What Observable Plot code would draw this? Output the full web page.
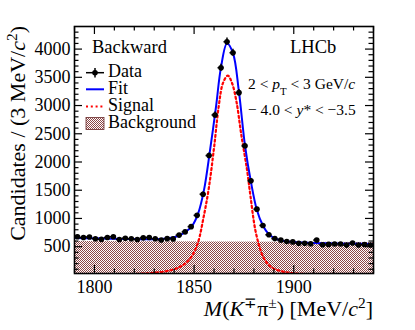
<!DOCTYPE html>
<html><head><meta charset="utf-8">
<script src="https://cdn.jsdelivr.net/npm/d3@7"></script>
<script src="https://cdn.jsdelivr.net/npm/@observablehq/plot@0.6"></script>
<style>
html,body{margin:0;padding:0;background:#fff;}
svg{display:block;}
</style>
</head><body><div id="chart"></div>
<script>
// ---- data ----
const binCenters = [1791.5,1794.5,1797.5,1800.5,1803.5,1806.5,1809.5,1812.5,1815.5,1818.5,
  1821.5,1824.5,1827.5,1830.5,1833.5,1836.5,1839.5,1842.5,1845.5,1848.5,
  1851.5,1854.5,1857.5,1860.5,1863.5,1866.5,1869.5,1872.5,1875.5,1878.5,
  1881.5,1884.5,1887.5,1890.5,1893.5,1896.5,1899.5,1902.5,1905.5,1908.5,
  1911.5,1914.5,1917.5,1920.5,1923.5,1926.5,1929.5,1932.5,1935.5,1938.5];
const counts = [675,662,672,640,630,662,675,628,650,640,
  628,656,662,640,618,642,638,705,762,855,
  1055,1430,2114,2833,3670,4130,3936,3228,2285,1666,
  1165,876,711,643,617,592,585,562,562,552,
  617,535,540,548,548,528,565,530,538,530];

const fitMass = [1790,1800,1810,1820,1830,1835,1840,1843,1846,1849,1852,1855,1858,1861,1863.5,1866.5,1869.5,1872.5,1875.5,1878.5,1881.5,1884.5,1887.5,1890.5,1895,1900,1910,1920,1930,1940];
const fitValues = [655,648,640,634,632,640,668,705,768,868,1085,1510,2210,2980,3680,4100,3930,3240,2300,1650,1150,875,720,648,602,582,566,558,552,548];

const sigMass = [1790,1800,1810,1820,1825,1830,1835,1840,1843,1846,1849,1852,1854.8,1857.3,1860,1862.4,1864.5,1866.9,1869,1871.3,1873.6,1876.6,1878.3,1880.8,1883.8,1886,1888.3,1891,1895,1900,1910,1920,1940];
const sigValues = [0,2,6,15,24,38,60,100,145,215,340,580,1030,1520,2250,3000,3400,3530,3400,3060,2500,1850,1390,780,390,240,150,95,55,28,10,4,0];

const bkgMass = [1790,1940];
const bkgValues = [590,575];

const xTickLabels = [1800,1850,1900];
const xMinorTicks = [1790,1810,1820,1830,1840,1860,1870,1880,1890,1910,1920,1930,1940];
const yTickLabels = [500,1000,1500,2000,2500,3000,3500,4000];
const yMinorTicks = d3.range(100,4400,100).filter(v => v % 500 !== 0);

// ---- layout ----
const W = 415, H = 330, mL = 74, mR = 42, mT = 26, mB = 57;
const fw = W - mL - mR, fh = H - mT - mB;
const FONT = "'Liberation Serif','Times New Roman',serif";
const DOTS = "2,2.8";

const data = binCenters.map((m, i) => ({m, n: counts[i]}));
const fit = fitMass.map((m, i) => ({m, v: fitValues[i]}));
const sig = sigMass.map((m, i) => ({m, v: sigValues[i]}));
const bkg = bkgMass.map((m, i) => ({m, v: bkgValues[i]}));

const tickStyle = {stroke: "black", strokeWidth: 1.2};

const plot = Plot.plot({
  width: W, height: H,
  marginLeft: mL, marginRight: mR, marginTop: mT, marginBottom: mB,
  style: {fontFamily: FONT, fontSize: "18px", color: "black", background: "white"},
  x: {domain: [1790, 1940]},
  y: {domain: [25, 4400]},
  marks: [
    Plot.areaY(bkg, {x: "m", y: "v", fill: "url(#bkgHatch)", clip: true}),
    Plot.line(sig, {x: "m", y: "v", stroke: "#ff0000", strokeWidth: 2.2, strokeDasharray: DOTS, curve: "catmull-rom", clip: true}),
    Plot.line(fit, {x: "m", y: "v", stroke: "#0000ff", strokeWidth: 2, curve: "catmull-rom", clip: true}),
    Plot.ruleX(data, {x: "m", y1: d => d.n - Math.sqrt(d.n), y2: d => d.n + Math.sqrt(d.n), stroke: "black", strokeWidth: 1.5}),
    Plot.ruleY(data, {y: "n", x1: d => d.m - 1.5, x2: d => d.m + 1.5, stroke: "black", strokeWidth: 1.5}),
    Plot.dot(data, {x: "m", y: "n", r: 2.8, fill: "black", stroke: "none"}),
    // inward ticks on all four sides
    Plot.tickY(yTickLabels, {y: d => d, insetRight: fw - 8, ...tickStyle}),
    Plot.tickY(yTickLabels, {y: d => d, insetLeft: fw - 8, ...tickStyle}),
    Plot.tickY(yMinorTicks, {y: d => d, insetRight: fw - 4.5, ...tickStyle}),
    Plot.tickY(yMinorTicks, {y: d => d, insetLeft: fw - 4.5, ...tickStyle}),
    Plot.tickX(xTickLabels, {x: d => d, insetTop: fh - 8, ...tickStyle}),
    Plot.tickX(xTickLabels, {x: d => d, insetBottom: fh - 8, ...tickStyle}),
    Plot.tickX(xMinorTicks, {x: d => d, insetTop: fh - 4.5, ...tickStyle}),
    Plot.tickX(xMinorTicks, {x: d => d, insetBottom: fh - 4.5, ...tickStyle}),
    Plot.axisX({ticks: xTickLabels, tickSize: 0, tickPadding: 7, tickFormat: "d", fontSize: 18, label: null}),
    Plot.axisY({ticks: yTickLabels, tickSize: 0, tickPadding: 4, tickFormat: "d", fontSize: 18, label: null}),
    Plot.frame({stroke: "black", strokeWidth: 1.6})
  ]
});

document.getElementById("chart").appendChild(plot);

// ---- pattern, legend and rich-text labels ----
const svg = d3.select(plot);
const defs = svg.insert("defs", ":first-child");
const pat = defs.append("pattern").attr("id", "bkgHatch")
  .attr("width", 2).attr("height", 2).attr("patternUnits", "userSpaceOnUse");
pat.append("rect").attr("width", 2).attr("height", 2).attr("fill", "#ffffff").attr("shape-rendering", "crispEdges");
pat.append("rect").attr("width", 1).attr("height", 1).attr("fill", "#8c4646").attr("shape-rendering", "crispEdges");
pat.append("rect").attr("x", 1).attr("y", 1).attr("width", 1).attr("height", 1).attr("fill", "#8c4646").attr("shape-rendering", "crispEdges");

const g = svg.append("g").attr("font-family", FONT).attr("fill", "black").attr("text-anchor", "start");
const sup = s => `<tspan baseline-shift="super" font-size="70%">${s}</tspan>`;
const it = s => `<tspan font-style="italic">${s}</tspan>`;

g.append("text").attr("transform", "translate(25,26) rotate(-90)")
  .attr("text-anchor", "end").attr("font-size", 22)
  .html(`Candidates / (3 MeV/${it("c")}${sup("2")})`);

g.append("text").attr("x", 373).attr("y", 316).attr("text-anchor", "end").attr("font-size", 22)
  .html(`${it("M")}(${it("K")}${sup("∓")}π${sup("±")}) [MeV/${it("c")}${sup("2")}]`);

g.append("text").attr("x", 92).attr("y", 53.3).attr("font-size", 18.5).text("Backward");
g.append("text").attr("x", 290).attr("y", 53.3).attr("font-size", 18.5).text("LHCb");

g.append("text").attr("x", 248).attr("y", 89.3).attr("font-size", 15.5)
  .html(`2 &lt; ${it("p")}<tspan baseline-shift="sub" font-size="70%">T</tspan> &lt; 3 GeV/${it("c")}`);
g.append("text").attr("x", 248).attr("y", 115).attr("font-size", 15.5)
  .html(`− 4.0 &lt; ${it("y")}* &lt; −3.5`);

// legend
const lx0 = 86, lx1 = 104, tx = 108;
g.append("line").attr("x1", lx0).attr("x2", lx1).attr("y1", 72.7).attr("y2", 72.7).attr("stroke", "black").attr("stroke-width", 1.5);
g.append("line").attr("x1", 95).attr("x2", 95).attr("y1", 68).attr("y2", 77.5).attr("stroke", "black").attr("stroke-width", 1.5);
g.append("circle").attr("cx", 95).attr("cy", 72.7).attr("r", 2.8).attr("fill", "black");
g.append("line").attr("x1", lx0).attr("x2", lx1).attr("y1", 89.3).attr("y2", 89.3).attr("stroke", "#0000ff").attr("stroke-width", 2);
g.append("line").attr("x1", lx0).attr("x2", lx1).attr("y1", 106.5).attr("y2", 106.5).attr("stroke", "#ff0000").attr("stroke-width", 2.2).attr("stroke-dasharray", DOTS);
g.append("rect").attr("x", lx0).attr("y", 117.5).attr("width", lx1 - lx0).attr("height", 12)
  .attr("fill", "url(#bkgHatch)").attr("stroke", "#6a2a2a").attr("stroke-width", 0.8);
const legendTexts = ["Data", "Fit", "Signal", "Background"];
const legendBase = [77.3, 94, 110.7, 127.7];
legendTexts.forEach((t, i) => g.append("text").attr("x", tx).attr("y", legendBase[i]).attr("font-size", 18).text(t));
</script>
</body></html>
